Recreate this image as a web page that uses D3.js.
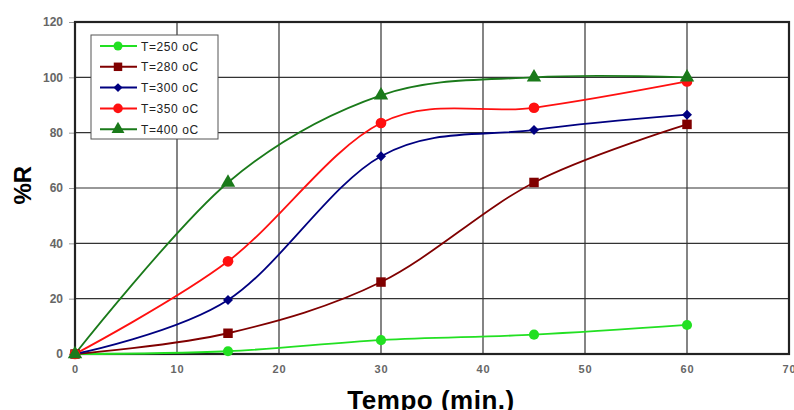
<!DOCTYPE html>
<html>
<head>
<meta charset="utf-8">
<script src="https://cdn.jsdelivr.net/npm/d3@7"></script>
<style>
  body { margin: 0; background: #fff; }
  .tick text { font-family: Arial, "Liberation Sans", sans-serif; font-weight: bold; fill: #666; }
</style>
</head>
<body>
<svg id="chart" width="794" height="410"></svg>
<script>
// time (min.)
var times = [0, 15, 30, 45, 60];
var xTicks = [0, 10, 20, 30, 40, 50, 60, 70];
var yTicks = [0, 20, 40, 60, 80, 100, 120];

// %R for each temperature
var r250 = [0, 1, 5, 7, 10.5];
var r280 = [0, 7.5, 26, 62, 83];
var r300 = [0, 19.5, 71.5, 81, 86.5];
var r350 = [0, 33.5, 83.5, 89, 98.5];
var r400 = [0, 62, 93.5, 100, 100];

var seriesNames = ['T=250 oC', 'T=280 oC', 'T=300 oC', 'T=350 oC', 'T=400 oC'];
var seriesValues = [r250, r280, r300, r350, r400];
var seriesColors = ['#22e022', '#800000', '#000080', '#ff1010', '#1a7a1a'];
var seriesMarkers = [d3.symbolCircle, d3.symbolSquare, d3.symbolSquare, d3.symbolCircle, d3.symbolTriangle];
var markerRotate = [0, 0, 45, 0, 0];
var markerSizes = [80, 90, 50, 90, 90];

var svg = d3.select('#chart');
var x = d3.scaleLinear().domain([0, 70]).range([75, 789]);
var y = d3.scaleLinear().domain([0, 120]).range([354, 22]);

//Gridlines
svg.append('g').selectAll('line.vgrid')
    .data(xTicks.slice(1, -1))
    .enter().append('line')
    .attr('x1', function(d) { return x(d); }).attr('x2', function(d) { return x(d); })
    .attr('y1', y(120)).attr('y2', y(0))
    .attr('stroke', '#333').attr('stroke-width', 1.2);
svg.append('g').selectAll('line.hgrid')
    .data(yTicks.slice(1, -1))
    .enter().append('line')
    .attr('x1', x(0)).attr('x2', x(70))
    .attr('y1', function(d) { return y(d); }).attr('y2', function(d) { return y(d); })
    .attr('stroke', '#333').attr('stroke-width', 1.2);

//Axes
var yAxis = svg.append('g').attr('transform', 'translate(' + x(0) + ',0)')
    .call(d3.axisLeft(y).tickValues(yTicks).tickSize(6).tickPadding(6));
yAxis.select('.domain').remove();
yAxis.selectAll('.tick line').attr('stroke', '#999');
yAxis.selectAll('.tick text').style('font-size', '12px');

var xAxis = svg.append('g').attr('transform', 'translate(0,' + y(0) + ')')
    .call(d3.axisBottom(x).tickValues(xTicks).tickSize(0).tickPadding(11));
xAxis.select('.domain').remove();
xAxis.selectAll('.tick text').style('font-size', '11px').style('letter-spacing', '1px');

//Plot frame
svg.append('rect')
    .attr('x', x(0)).attr('y', y(120))
    .attr('width', x(70) - x(0)).attr('height', y(0) - y(120))
    .attr('fill', 'none').attr('stroke', '#222').attr('stroke-width', 2.2);

//Series lines and markers
var line = d3.line()
    .x(function(d, i) { return x(times[i]); })
    .y(function(d) { return y(d); })
    .curve(d3.curveCatmullRom.alpha(0));

var seriesGroup = svg.append('g');
seriesValues.forEach(function(vals, s) {
    seriesGroup.append('path')
        .attr('d', line(vals))
        .attr('fill', 'none')
        .attr('stroke', seriesColors[s])
        .attr('stroke-width', 1.8);
});
seriesValues.forEach(function(vals, s) {
    seriesGroup.selectAll('path.m' + s)
        .data(vals)
        .enter().append('path')
        .attr('class', 'm' + s)
        .attr('d', d3.symbol().type(seriesMarkers[s]).size(markerSizes[s]))
        .attr('transform', function(d, i) {
            return 'translate(' + x(times[i]) + ',' + y(d) + ') rotate(' + markerRotate[s] + ')';
        })
        .attr('fill', seriesColors[s]);
});

//Legend
var legend = svg.append('g');
legend.append('rect')
    .attr('x', 91).attr('y', 35).attr('width', 127).attr('height', 104)
    .attr('fill', '#fff').attr('stroke', '#555').attr('stroke-width', 1);
seriesNames.forEach(function(name, s) {
    var ly = 46 + s * 20.8;
    legend.append('line')
        .attr('x1', 100).attr('x2', 137).attr('y1', ly).attr('y2', ly)
        .attr('stroke', seriesColors[s]).attr('stroke-width', 2);
    legend.append('path')
        .attr('d', d3.symbol().type(seriesMarkers[s]).size(markerSizes[s] * 0.8))
        .attr('transform', 'translate(118,' + ly + ') rotate(' + markerRotate[s] + ')')
        .attr('fill', seriesColors[s]);
    legend.append('text')
        .attr('x', 141).attr('y', ly + 4.5)
        .style('font-family', 'Arial, "Liberation Sans", sans-serif')
        .style('font-size', '12px')
        .style('letter-spacing', '0.6px')
        .attr('fill', '#222')
        .text(name);
});

//Axis titles
svg.append('text')
    .attr('transform', 'translate(31,' + y(61) + ') rotate(-90)')
    .attr('text-anchor', 'middle')
    .style('font-family', 'Arial, "Liberation Sans", sans-serif')
    .style('font-weight', 'bold').style('font-size', '24px')
    .text('%R');
svg.append('text')
    .attr('x', 431).attr('y', 409)
    .attr('text-anchor', 'middle')
    .style('font-family', 'Arial, "Liberation Sans", sans-serif')
    .style('font-weight', 'bold').style('font-size', '26px')
    .style('letter-spacing', '0.5px')
    .text('Tempo (min.)');
</script>
</body>
</html>
